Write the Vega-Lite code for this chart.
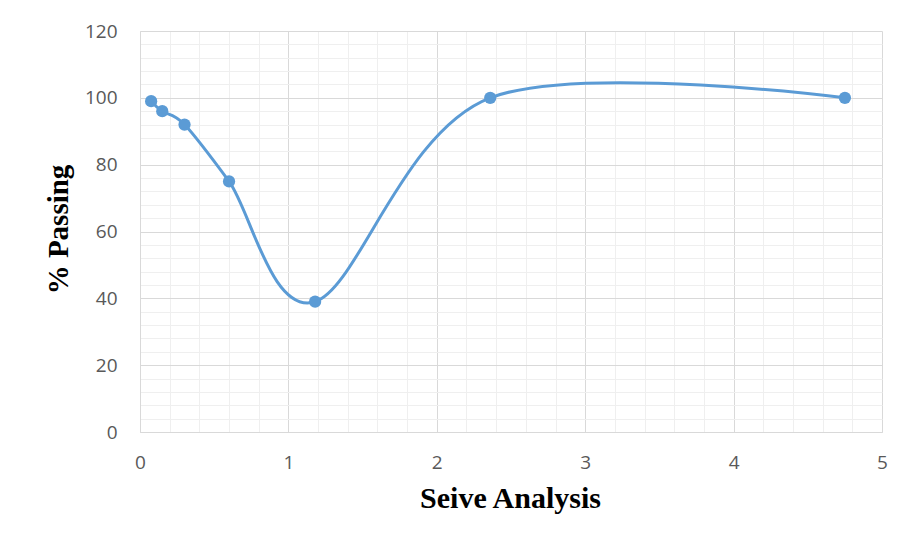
{
  "$schema": "https://vega.github.io/schema/vega-lite/v6.json",
  "autosize": {"type": "none"},
  "width": 742,
  "height": 401,
  "padding": {"left": 140, "top": 31, "right": 21, "bottom": 114},
  "background": "white",
  "config": {"view": {"stroke": null}},
  "data": {"values": [
    {"size": 0.075, "passing": 99},
    {"size": 0.15, "passing": 96},
    {"size": 0.3, "passing": 92},
    {"size": 0.6, "passing": 75},
    {"size": 1.18, "passing": 39},
    {"size": 2.36, "passing": 100},
    {"size": 4.75, "passing": 100}
  ]},
  "encoding": {
    "x": {
      "field": "size", "type": "quantitative",
      "scale": {"domain": [0, 5], "nice": false, "zero": true},
      "axis": {
        "title": "Seive Analysis",
        "values": [0,0.2,0.4,0.6,0.8,1,1.2,1.4,1.6,1.8,2,2.2,2.4,2.6,2.8,3,3.2,3.4,3.6,3.8,4,4.2,4.4,4.6,4.8,5],
        "labelExpr": "abs(datum.value - round(datum.value)) < 1e-6 ? format(datum.value, 'd') : ''",
        "grid": true,
        "gridColor": {"condition": {"test": "abs(datum.value - round(datum.value)) < 1e-6", "value": "#d9d9d9"}, "value": "#efefef"},
        "gridWidth": 1,
        "domain": true,
        "domainColor": "#d9d9d9",
        "ticks": false,
        "labelFlush": false,
        "labelPadding": 21,
        "labelFont": "Open Sans",
        "labelFontSize": 19,
        "labelColor": "#595959",
        "titleFont": "Liberation Serif",
        "titleFontSize": 30,
        "titleFontWeight": "bold",
        "titleColor": "black",
        "titleX": 370,
        "titleY": 66,
        "titleAlign": "center",
        "titleBaseline": "middle"
      }
    },
    "y": {
      "field": "passing", "type": "quantitative",
      "scale": {"domain": [0, 120], "nice": false},
      "axis": {
        "title": "% Passing",
        "values": [0,4,8,12,16,20,24,28,32,36,40,44,48,52,56,60,64,68,72,76,80,84,88,92,96,100,104,108,112,116,120],
        "labelExpr": "datum.value % 20 === 0 ? format(datum.value, 'd') : ''",
        "grid": true,
        "gridColor": {"condition": {"test": "datum.value % 20 === 0", "value": "#d9d9d9"}, "value": "#efefef"},
        "domain": true,
        "domainColor": "#d9d9d9",
        "ticks": false,
        "labelPadding": 23,
        "labelFont": "Open Sans",
        "labelFontSize": 19,
        "labelColor": "#595959",
        "titleFont": "Liberation Serif",
        "titleFontSize": 29,
        "titleFontWeight": "bold",
        "titleColor": "black",
        "titleX": -82,
        "titleY": 198,
        "titleAlign": "center",
        "titleBaseline": "middle"
      }
    }
  },
  "layer": [
    {"mark": {"type": "line", "interpolate": "cardinal", "tension": 0, "color": "#5b9bd5", "strokeWidth": 3}},
    {"mark": {"type": "point", "filled": true, "opacity": 1, "color": "#5b9bd5", "size": 150, "shape": "circle"}}
  ]
}
